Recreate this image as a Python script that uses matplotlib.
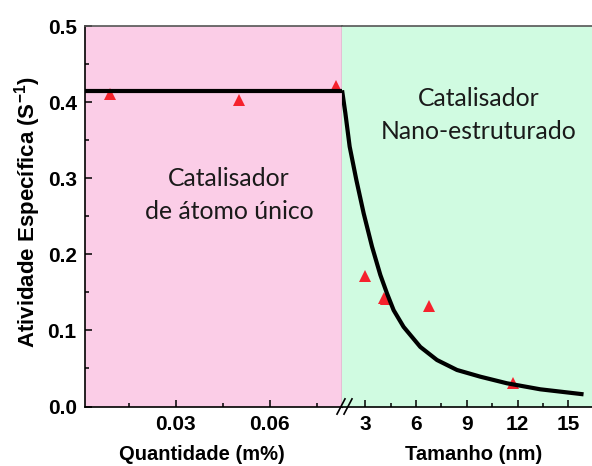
import matplotlib
matplotlib.use('Agg')
import matplotlib.pyplot as plt
from matplotlib.ticker import MultipleLocator
import numpy as np

plt.rcParams['font.family'] = ['Liberation Sans', 'DejaVu Sans']
plt.rcParams['mathtext.fontset'] = 'custom'
plt.rcParams['mathtext.bf'] = 'Liberation Sans:bold'
plt.rcParams['mathtext.rm'] = 'Liberation Sans:bold'

# single-atom catalyst: loading (m%) vs activity
quant_x = [0.009, 0.050, 0.081]
quant_y = [0.411, 0.403, 0.421]
plateau = 0.415

# nanostructured catalyst: particle size (nm) vs activity
size_x = [3.0, 4.1, 4.2, 6.75, 11.75]
size_y = [0.172, 0.143, 0.141, 0.132, 0.031]

# fitted curve
curve_x = [1.624, 1.819, 2.073, 2.468, 2.900, 3.396, 3.886, 4.282, 4.672,
           5.262, 6.249, 7.235, 8.417, 9.793, 11.37, 13.34, 15.90]
curve_y = [0.4155, 0.3855, 0.3415, 0.2977, 0.2539, 0.2100, 0.1729, 0.1485, 0.1266,
           0.1046, 0.0783, 0.0611, 0.0480, 0.0392, 0.0305, 0.0226, 0.0160]

pink = '#fbcde7'
green = '#d0fbe1'
tri_red = '#f5222d'

fig = plt.figure(figsize=(5.92, 4.66), dpi=100)
H = 466.0
W = 592.0
bottom = 1 - 406.5 / H
height = (406.5 - 26) / H
ax1 = fig.add_axes([85 / W, bottom, (342 - 85) / W, height])
ax2 = fig.add_axes([342 / W, bottom, (W - 342) / W, height], sharey=ax1)

ax1.set_facecolor(pink)
ax2.set_facecolor(green)

ax1.plot([0.001, 0.083], [plateau, plateau], color='black', lw=3, solid_capstyle='butt', zorder=3)
ax1.plot(quant_x, quant_y, '^', color=tri_red, ms=8, mew=0, zorder=2)
ax1.set_xlim(0.001, 0.083)
ax1.set_ylim(0, 0.5)
ax1.set_xticks([0.03, 0.06])
ax1.set_xticklabels(['0.03', '0.06'])
ax1.xaxis.set_minor_locator(MultipleLocator(0.015))
ax1.yaxis.set_minor_locator(MultipleLocator(0.05))
ax1.set_yticks([0, 0.1, 0.2, 0.3, 0.4, 0.5])
ax1.set_yticklabels(['0.0', '0.1', '0.2', '0.3', '0.4', '0.5'])

ax2.plot(curve_x, curve_y, color='black', lw=3, solid_joinstyle='round', solid_capstyle='butt', zorder=3)
ax2.plot(size_x, size_y, '^', color=tri_red, ms=8, mew=0, zorder=2)
ax2.set_xlim(1.62, 16.4)
ax2.set_xticks([3, 6, 9, 12, 15])
ax2.xaxis.set_minor_locator(MultipleLocator(1.5))

for ax in (ax1, ax2):
    ax.tick_params(which='both', direction='in', width=1.1)
    ax.tick_params(which='major', length=5, labelsize=15, pad=6)
    ax.tick_params(which='minor', length=3)
    for lab in ax.get_xticklabels() + ax.get_yticklabels():
        lab.set_fontweight('bold')
    ax.spines['top'].set_color('#555555')
    ax.spines['top'].set_linewidth(1.2)
    ax.spines['bottom'].set_linewidth(1.2)

ax1.spines['left'].set_linewidth(1.2)
ax1.spines['right'].set_color('#888888')
ax1.spines['right'].set_linestyle((0, (1, 1)))
ax1.spines['right'].set_linewidth(1.0)
ax1.tick_params(axis='y', which='both', right=False)
ax2.spines['left'].set_visible(False)
ax2.spines['right'].set_visible(False)
ax2.tick_params(axis='y', which='both', left=False, labelleft=False)

# axis break marks
for dx in (0.0, 0.028):
    ax2.plot([-0.02 + dx, 0.012 + dx], [-0.02, 0.02], color='black', lw=1.2,
             transform=ax2.transAxes, clip_on=False, zorder=5)

ax1.set_ylabel('Atividade Específica (S$^{\\mathbf{-1}}$)', fontsize=16, fontweight='bold', labelpad=3)
ax1.yaxis.label.set_y(0.512)
ax1.set_xlabel('Quantidade (m%)', fontsize=14.5, fontweight='bold', labelpad=8)
ax1.xaxis.label.set_x(0.455)
ax2.set_xlabel('Tamanho (nm)', fontsize=14.5, fontweight='bold', labelpad=8)
ax2.xaxis.label.set_x(0.528)

ax1.text(0.047, 0.278, 'Catalisador\nde átomo único', ha='center', va='center',
         fontsize=17.8, family=['Lato', 'DejaVu Sans'], color='#1a1a1a', linespacing=1.55)
ax2.text(9.72, 0.383, 'Catalisador\nNano-estruturado', ha='center', va='center',
         fontsize=17.8, family=['Lato', 'DejaVu Sans'], color='#1a1a1a', linespacing=1.55)

fig.savefig('out.png', dpi=100)
